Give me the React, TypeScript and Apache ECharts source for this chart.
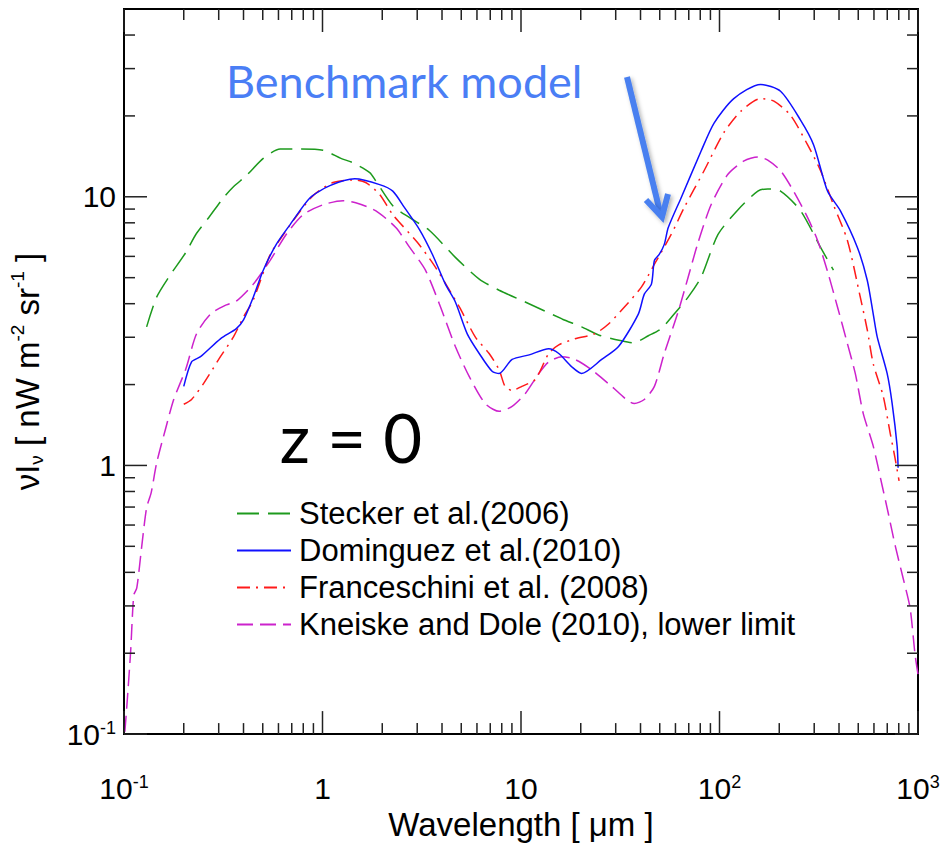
import React, { useEffect, useRef } from 'react';
import * as echarts from 'echarts';

// Wavelength [µm] vs nu I_nu [nW m^-2 sr^-1] at z = 0
const stecker: [number, number][] = [
  [0.130, 3.28], [0.146, 4.23], [0.168, 5.02], [0.205, 6.21], [0.230, 7.24], [0.267, 8.36],
  [0.317, 9.92], [0.356, 10.9], [0.414, 12.0], [0.503, 13.9], [0.612, 15.05], [0.771, 15.05],
  [1.006, 14.9], [1.238, 13.9], [1.42, 13.4], [1.73, 12.3], [1.85, 11.5], [2.26, 9.26],
  [2.75, 8.36], [3.46, 7.49], [4.67, 5.95], [6.16, 4.94], [7.76, 4.49], [10.5, 4.06],
  [16.1, 3.51], [20.2, 3.28], [24.6, 3.06], [32.1, 2.91], [36.9, 2.86], [43.8, 3.04],
  [50.9, 3.23], [59.1, 3.66], [69.5, 4.23], [80.8, 5.02], [98.3, 7.24], [124, 8.95],
  [156, 10.5], [175, 10.7], [203, 10.5], [256, 8.88], [323, 6.48], [375, 5.33]
];

const dominguez: [number, number][] = [
  [0.200, 1.97], [0.219, 2.43], [0.243, 2.54], [0.306, 2.96], [0.368, 3.23], [0.400, 3.48],
  [0.448, 4.23], [0.503, 5.33], [0.585, 6.65], [0.687, 7.88], [0.866, 9.92], [1.09, 11.0],
  [1.455, 11.66], [1.94, 11.1], [2.26, 10.5], [2.59, 9.11], [3.08, 7.55], [3.58, 6.10],
  [4.16, 4.73], [4.67, 4.06], [5.36, 3.09], [6.16, 2.61], [7.15, 2.24], [7.76, 2.20],
  [9.02, 2.48], [11.0, 2.58], [13.8, 2.72], [15.5, 2.61], [18.0, 2.33], [20.2, 2.20],
  [25.5, 2.48], [31.0, 2.77], [39.0, 3.66], [41.8, 4.34], [45.4, 4.73], [47.0, 5.80],
  [49.7, 6.10], [52.7, 6.65], [55.2, 7.68], [64.1, 9.92], [80.8, 14.8], [93.9, 18.8],
  [118, 23.2], [161, 26.2], [203, 24.7], [256, 19.3], [298, 15.6], [350, 10.5],
  [406, 8.88], [495, 6.48], [555, 4.89], [595, 3.66], [623, 3.01], [699, 2.20],
  [741, 1.70], [785, 1.18], [794, 0.98]
];

const franceschini: [number, number][] = [
  [0.200, 1.69], [0.219, 1.76], [0.252, 2.02], [0.306, 2.54], [0.356, 3.01], [0.400, 3.57],
  [0.448, 4.13], [0.545, 6.10], [0.612, 6.94], [0.711, 8.15], [0.896, 10.1], [1.13, 11.3],
  [1.42, 11.56], [1.65, 11.3], [1.94, 10.2], [2.26, 8.58], [3.01, 6.76], [3.71, 5.46],
  [4.89, 3.89], [5.88, 3.01], [6.91, 2.61], [7.76, 2.27], [8.31, 1.97], [9.02, 1.90],
  [10.1, 1.97], [11.8, 2.09], [13.8, 2.61], [15.5, 2.81], [18.7, 2.96], [23.5, 3.09],
  [27.6, 3.36], [33.2, 3.89], [40.4, 4.61], [47.0, 5.61], [57.1, 7.24], [66.4, 9.11],
  [83.6, 12.5], [105, 17.3], [128, 20.8], [161, 23.2], [188, 22.7], [228, 20.1],
  [278, 15.6], [323, 12.5], [375, 9.34], [441, 6.88], [512, 4.23], [555, 3.20],
  [595, 2.39], [668, 1.81], [724, 1.32], [767, 1.06], [803, 0.876]
];

const kneiske: [number, number][] = [
  [0.101, 0.102], [0.1035, 0.129], [0.108, 0.203], [0.112, 0.329], [0.116, 0.350], [0.123, 0.504],
  [0.130, 0.696], [0.137, 0.791], [0.146, 1.02], [0.162, 1.37], [0.178, 1.76], [0.205, 2.29],
  [0.232, 3.09], [0.273, 3.66], [0.328, 3.96], [0.368, 4.09], [0.448, 4.73], [0.545, 5.80],
  [0.656, 7.24], [0.799, 8.58], [1.006, 9.34], [1.27, 9.67], [1.47, 9.50], [1.85, 8.88],
  [2.34, 7.68], [2.75, 6.48], [3.30, 5.33], [3.88, 3.99], [4.67, 2.77], [5.49, 2.14],
  [6.60, 1.70], [7.76, 1.59], [9.02, 1.66], [10.5, 1.85], [12.3, 2.20], [13.8, 2.43],
  [16.1, 2.54], [18.7, 2.48], [22.7, 2.27], [28.6, 1.97], [37.3, 1.70], [41.8, 1.76],
  [47.0, 1.97], [52.7, 2.61], [61.9, 3.73], [69.5, 5.02], [78.0, 6.76], [90.7, 9.34],
  [110, 12.1], [133, 13.6], [156, 14.06], [175, 13.7], [203, 12.5], [236, 10.5],
  [278, 8.36], [312, 6.88], [350, 5.28], [393, 3.89], [441, 2.84], [483, 2.20],
  [530, 1.56], [595, 1.18], [660, 0.840], [707, 0.668], [767, 0.504], [841, 0.381],
  [912, 0.295], [966, 0.198], [1000, 0.167]
];

const seriesNames = [
  'Stecker et al.(2006)',
  'Dominguez et al.(2010)',
  'Franceschini et al. (2008)',
  'Kneiske and Dole (2010), lower limit'
];

const X_MIN = 0.1;
const X_MAX = 1000;
const Y_MIN = 0.1;
const Y_MAX = 50;
const xMajorTicks = [0.1, 1, 10, 100, 1000];
const yMajorTicks = [0.1, 1, 10];
const minorMultipliers = [2, 3, 4, 5, 6, 7, 8, 9];

const FONT = 'Liberation Sans';

function buildTicks(): number[][] {
  const out: number[][] = [];
  xMajorTicks.forEach((v) => out.push([v, 1, 0, 1]));
  xMajorTicks.slice(0, -1).forEach((d) =>
    minorMultipliers.forEach((m) => out.push([d * m, 1, 0, 0]))
  );
  yMajorTicks.forEach((v) => out.push([1, v, 1, 1]));
  yMajorTicks.forEach((d) =>
    minorMultipliers.forEach((m) => {
      const v = d * m;
      if (v < Y_MAX) out.push([1, v, 1, 0]);
    })
  );
  return out;
}

function fmtLog(v: number): string {
  const e = Math.log10(v);
  const r = Math.round(e);
  if (Math.abs(e - r) > 1e-6) return '';
  if (r === 0) return '{b|1}';
  if (r === 1) return '{b|10}';
  return '{b|10}{s|' + r + '}';
}

const labelRich = {
  b: { fontSize: 30, fontFamily: FONT, color: '#000' },
  s: { fontSize: 18, fontFamily: FONT, color: '#000', verticalAlign: 'top' }
};

export default function App() {
  const ref = useRef<HTMLDivElement>(null);

  useEffect(() => {
    if (!ref.current) return;
    const chart = echarts.init(ref.current, null, { renderer: 'svg' });

    const tickStyle = { stroke: '#222', lineWidth: 1.5 };

    const lineSeries = [
      { name: seriesNames[0], data: stecker, color: '#1d9a1d', dash: [22, 9] as any, z: 2 },
      { name: seriesNames[1], data: dominguez, color: '#1010ff', dash: 'solid' as any, z: 5 },
      { name: seriesNames[2], data: franceschini, color: '#ff1a1a', dash: [13, 6, 2, 6] as any, z: 4 },
      { name: seriesNames[3], data: kneiske, color: '#cc22cc', dash: [16, 7] as any, z: 3 }
    ].map((s) => ({
      name: s.name,
      type: 'line',
      data: s.data,
      symbol: 'none',
      showSymbol: false,
      smooth: 0.25,
      z: s.z,
      itemStyle: { color: s.color },
      lineStyle: { color: s.color, width: 1.5, type: s.dash }
    }));

    const option: any = {
      animation: false,
      backgroundColor: '#fff',
      grid: {
        left: 120,
        top: 9,
        right: 25,
        bottom: 106,
        show: true,
        borderColor: '#000',
        borderWidth: 2,
        containLabel: false
      },
      legend: {
        data: seriesNames,
        orient: 'vertical',
        left: 231,
        top: 493,
        itemWidth: 54,
        itemHeight: 14,
        itemGap: 6,
        selectedMode: false,
        itemStyle: { opacity: 0 },
        textStyle: {
          fontFamily: FONT,
          fontSize: 31,
          color: '#000',
          lineHeight: 31,
          padding: [0, 0, 0, 3]
        }
      },
      xAxis: {
        type: 'log',
        logBase: 10,
        min: X_MIN,
        max: X_MAX,
        splitLine: { show: false },
        axisTick: { show: false },
        minorTick: { show: false },
        axisLine: { show: true, lineStyle: { color: '#000', width: 2 } },
        axisLabel: { formatter: fmtLog, margin: 39, rich: labelRich, showMinLabel: true, showMaxLabel: true },
        name: 'Wavelength [ μm ]',
        nameLocation: 'middle',
        nameGap: 66,
        nameTextStyle: { fontFamily: FONT, fontSize: 33, color: '#000' }
      },
      yAxis: {
        type: 'log',
        logBase: 10,
        min: Y_MIN,
        max: Y_MAX,
        splitLine: { show: false },
        axisTick: { show: false },
        minorTick: { show: false },
        axisLine: { show: true, lineStyle: { color: '#000', width: 2 } },
        axisLabel: { formatter: fmtLog, margin: 8, rich: labelRich, showMinLabel: true },
        name: '{a|νI}{sub|ν}{a| [ nW m}{sup|-2}{a| sr}{sup|-1}{a| ]}',
        nameLocation: 'middle',
        nameRotate: 90,
        nameGap: 78,
        nameTextStyle: {
          fontFamily: FONT,
          fontSize: 33,
          color: '#000',
          rich: {
            a: { fontFamily: FONT, fontSize: 33, color: '#000' },
            sub: { fontFamily: FONT, fontSize: 19, color: '#000', verticalAlign: 'top', padding: [19, 0, 0, 0] },
            sup: { fontFamily: FONT, fontSize: 19, color: '#000', verticalAlign: 'top' }
          }
        }
      },
      series: [
        ...lineSeries,
        {
          name: 'ticks',
          type: 'custom',
          silent: true,
          z: 10,
          encode: { x: 0, y: 1 },
          data: buildTicks(),
          renderItem: (params: any, api: any) => {
            const kind = api.value(2);
            const len = api.value(3) ? 23 : 11;
            if (kind === 0) {
              const v = api.value(0);
              const b = api.coord([v, Y_MIN]);
              const t = api.coord([v, Y_MAX]);
              return {
                type: 'group',
                children: [
                  { type: 'line', shape: { x1: b[0], y1: b[1], x2: b[0], y2: b[1] - len }, style: tickStyle },
                  { type: 'line', shape: { x1: t[0], y1: t[1], x2: t[0], y2: t[1] + len }, style: tickStyle }
                ]
              };
            }
            const v = api.value(1);
            const l = api.coord([X_MIN, v]);
            const r = api.coord([X_MAX, v]);
            return {
              type: 'group',
              children: [
                { type: 'line', shape: { x1: l[0], y1: l[1], x2: l[0] + len, y2: l[1] }, style: tickStyle },
                { type: 'line', shape: { x1: r[0], y1: r[1], x2: r[0] - len, y2: r[1] }, style: tickStyle }
              ]
            };
          }
        }
      ],
      graphic: [
        {
          type: 'text',
          z: 20,
          style: {
            text: 'Benchmark model',
            x: 226,
            y: 81,
            fill: '#4a7ef5',
            fontFamily: 'Lato',
            fontSize: 45,
            align: 'left',
            verticalAlign: 'middle'
          }
        },
        {
          type: 'text',
          z: 20,
          style: {
            text: 'z = 0',
            x: 351,
            y: 437,
            fill: '#000',
            fontFamily: 'Lato',
            fontSize: 67,
            align: 'center',
            verticalAlign: 'middle'
          }
        },
        {
          type: 'polyline',
          z: 20,
          shape: { points: [[627, 77], [660, 212]] },
          style: {
            stroke: '#4a80f0',
            lineWidth: 6,
            fill: null,
            shadowBlur: 4,
            shadowColor: 'rgba(0,0,0,0.3)',
            shadowOffsetX: 2,
            shadowOffsetY: 2
          }
        },
        {
          type: 'polyline',
          z: 20,
          shape: { points: [[646, 200], [662, 217], [668, 194]] },
          style: {
            stroke: '#4a80f0',
            lineWidth: 6,
            fill: null,
            lineJoin: 'miter',
            shadowBlur: 4,
            shadowColor: 'rgba(0,0,0,0.3)',
            shadowOffsetX: 2,
            shadowOffsetY: 2
          }
        }
      ]
    };

    chart.setOption(option);
    return () => chart.dispose();
  }, []);

  return (
    <div
      ref={ref}
      style={{ position: 'fixed', left: 0, top: 0, width: 943, height: 846, background: '#fff' }}
    />
  );
}
